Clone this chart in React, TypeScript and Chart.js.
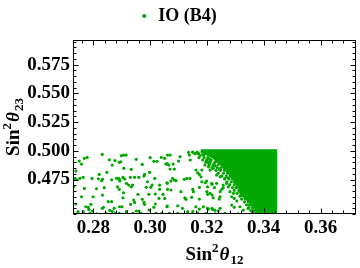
import React, { useEffect, useRef } from "react";
import { Chart, registerables } from "chart.js";

Chart.register(...registerables);

const SERIES_LABEL = "IO (B4)";
const GREEN = "rgb(0,168,0)";
const FONT_FAMILY = '"Liberation Serif", "Times New Roman", serif';

const X_MIN = 0.2728;
const X_MAX = 0.3725;
const Y_MIN = 0.445;
const Y_MAX = 0.5965;
const X_TICKS = [0.28, 0.3, 0.32, 0.34, 0.36];
const Y_TICKS = [0.475, 0.5, 0.525, 0.55, 0.575];
const X_MINOR_STEP = 0.004;
const Y_MINOR_STEP = 0.005;

// sparse scattered points [sin^2 theta12, sin^2 theta23]
const SPARSE_POINTS: [number, number][] = [
  [0.2831, 0.4969], [0.2768, 0.4935], [0.2778, 0.4943], [0.275, 0.4911], [0.2758, 0.4885],
  [0.2856, 0.4922], [0.2876, 0.4914], [0.2866, 0.4876], [0.2891, 0.49], [0.2738, 0.4824],
  [0.2847, 0.4813], [0.282, 0.4795], [0.2764, 0.4769], [0.2752, 0.476], [0.2741, 0.4748],
  [0.2735, 0.476], [0.2795, 0.476], [0.2817, 0.4757], [0.2832, 0.4752], [0.2829, 0.474],
  [0.2864, 0.4748], [0.2882, 0.476], [0.2891, 0.4752], [0.2731, 0.4687], [0.2768, 0.4673],
  [0.2811, 0.467], [0.2838, 0.4679], [0.2885, 0.4687], [0.2891, 0.4665], [0.2758, 0.46],
  [0.2799, 0.46], [0.2832, 0.4615], [0.2852, 0.4557], [0.2864, 0.4557], [0.2738, 0.4537],
  [0.2791, 0.4534], [0.2773, 0.4513], [0.2782, 0.4508], [0.2784, 0.449], [0.2835, 0.4508],
  [0.2831, 0.4499], [0.2873, 0.4499], [0.2746, 0.447], [0.2764, 0.447], [0.2796, 0.4476],
  [0.2858, 0.4482], [0.2866, 0.4473], [0.2729, 0.4452], [0.2743, 0.4452], [0.2788, 0.4456],
  [0.2811, 0.4452], [0.2843, 0.4456], [0.2876, 0.4456], [0.2891, 0.4456],
  [0.2898, 0.4957], [0.2906, 0.4963], [0.2915, 0.4963], [0.2896, 0.4905], [0.2951, 0.4926],
  [0.3, 0.494], [0.3013, 0.4909], [0.3024, 0.4909], [0.3039, 0.4943], [0.3051, 0.4935],
  [0.306, 0.4888], [0.2972, 0.4882], [0.2907, 0.4848], [0.2933, 0.4839], [0.2998, 0.4813],
  [0.298, 0.4795], [0.3016, 0.476], [0.2889, 0.476], [0.2904, 0.4769], [0.291, 0.4754],
  [0.293, 0.4769], [0.2945, 0.4769], [0.296, 0.4769], [0.2978, 0.478], [0.2893, 0.4737],
  [0.2916, 0.4717], [0.2924, 0.4702], [0.2933, 0.4687], [0.2938, 0.4702], [0.299, 0.4731],
  [0.3007, 0.4702], [0.3033, 0.4702], [0.306, 0.4717], [0.2986, 0.4682], [0.3002, 0.4682],
  [0.3033, 0.4665], [0.2906, 0.4635], [0.2957, 0.4621], [0.2995, 0.4621], [0.3018, 0.4624],
  [0.3045, 0.4621], [0.3051, 0.4586], [0.3031, 0.4586], [0.2904, 0.4591], [0.2942, 0.4571],
  [0.2945, 0.4551], [0.2972, 0.4578], [0.2978, 0.4551], [0.2931, 0.4534], [0.298, 0.4534],
  [0.3018, 0.4537], [0.3013, 0.4508], [0.306, 0.4519], [0.2892, 0.4513], [0.2901, 0.4513],
  [0.2951, 0.4476], [0.296, 0.4476], [0.2916, 0.447], [0.2996, 0.4484], [0.2939, 0.4456],
  [0.2968, 0.4456], [0.3021, 0.4456], [0.3041, 0.4456],
  [0.3061, 0.4963], [0.307, 0.4963], [0.3105, 0.4949], [0.3135, 0.4987], [0.3138, 0.4963],
  [0.3141, 0.492], [0.315, 0.4987], [0.31, 0.4911], [0.3055, 0.4885], [0.3065, 0.4876],
  [0.307, 0.4841], [0.3081, 0.4885], [0.3085, 0.4841], [0.3161, 0.4833], [0.3167, 0.4809],
  [0.3173, 0.4795], [0.3179, 0.4774], [0.3182, 0.4833], [0.3208, 0.4876], [0.322, 0.4848],
  [0.3229, 0.487], [0.3079, 0.476], [0.3085, 0.4746], [0.3091, 0.474], [0.3073, 0.4737],
  [0.312, 0.4752], [0.3129, 0.476], [0.314, 0.476], [0.3059, 0.4722], [0.3182, 0.4731],
  [0.3194, 0.4722], [0.3218, 0.4708], [0.3226, 0.4679], [0.3061, 0.4665], [0.3073, 0.4659],
  [0.3108, 0.4644], [0.315, 0.4665], [0.3152, 0.4644], [0.3173, 0.4682], [0.32, 0.4644],
  [0.3211, 0.463], [0.3122, 0.4591], [0.3126, 0.4578], [0.3146, 0.4595], [0.3173, 0.458],
  [0.3218, 0.4615], [0.3222, 0.4591], [0.3059, 0.4513], [0.3097, 0.4522], [0.3114, 0.4499],
  [0.3161, 0.4513], [0.3173, 0.4493], [0.3187, 0.4513], [0.3202, 0.4499], [0.322, 0.449],
  [0.3132, 0.447], [0.315, 0.447], [0.3167, 0.4461], [0.3067, 0.4456], [0.3097, 0.4456],
  [0.3196, 0.4456],
  [0.3199, 0.4737], [0.3202, 0.4687], [0.3217, 0.4717], [0.3234, 0.4717], [0.3246, 0.4644],
  [0.3252, 0.4665], [0.3257, 0.4679], [0.3257, 0.4702], [0.3269, 0.4717], [0.3275, 0.4687],
  [0.3202, 0.4621], [0.3246, 0.46], [0.3243, 0.458], [0.3287, 0.46], [0.3296, 0.4586],
  [0.3281, 0.4644], [0.3293, 0.463], [0.3305, 0.4563], [0.3316, 0.4513], [0.3205, 0.4493],
  [0.3217, 0.4499], [0.3228, 0.4482], [0.324, 0.4476], [0.3246, 0.4499], [0.3287, 0.4528],
  [0.3296, 0.4508], [0.3328, 0.4484], [0.3345, 0.4499], [0.3228, 0.4452], [0.3263, 0.4456],
  [0.331, 0.4452], [0.3381, 0.4456], [0.3398, 0.447], [0.3363, 0.4557], [0.3375, 0.4528],
  [0.3334, 0.4586], [0.3345, 0.4571], [0.3316, 0.4644], [0.3322, 0.4615], [0.3193, 0.4876],
  [0.3205, 0.4861], [0.3211, 0.4833], [0.3222, 0.4848], [0.3234, 0.4789], [0.3246, 0.4774],
  [0.3263, 0.476],
];

// points crowding along the fuzzy edge of the dense region
const FRINGE_POINTS: [number, number][] = [
  [0.315, 0.499], [0.3165, 0.499], [0.3158, 0.4975], [0.317, 0.4975], [0.3176, 0.496],
  [0.3188, 0.496], [0.3172, 0.494], [0.319, 0.494], [0.3203, 0.494], [0.3185, 0.492],
  [0.32, 0.492], [0.3215, 0.492], [0.3196, 0.49], [0.3212, 0.49], [0.3228, 0.49],
  [0.3208, 0.488], [0.3224, 0.488], [0.324, 0.488], [0.3218, 0.4855], [0.3236, 0.4855],
  [0.325, 0.4855], [0.3232, 0.483], [0.3248, 0.483], [0.3262, 0.483], [0.324, 0.4805],
  [0.3258, 0.4805], [0.3272, 0.4805], [0.3252, 0.478], [0.3268, 0.478], [0.3282, 0.478],
  [0.3262, 0.4755], [0.3278, 0.4755], [0.329, 0.4755], [0.327, 0.473], [0.3286, 0.473],
  [0.3298, 0.473], [0.328, 0.4705], [0.3296, 0.4705], [0.3308, 0.4705], [0.329, 0.468],
  [0.3305, 0.468], [0.3316, 0.468], [0.3296, 0.4655], [0.3312, 0.4655], [0.3324, 0.4655],
  [0.3306, 0.463], [0.332, 0.463], [0.3332, 0.463], [0.3316, 0.4605], [0.333, 0.4605],
  [0.3342, 0.4605], [0.3322, 0.458], [0.3338, 0.458], [0.335, 0.458], [0.3332, 0.4555],
  [0.3346, 0.4555], [0.3356, 0.4555], [0.334, 0.453], [0.3354, 0.453], [0.3364, 0.453],
  [0.3348, 0.4505], [0.336, 0.4505], [0.3372, 0.4505], [0.3354, 0.448], [0.3368, 0.448],
  [0.3378, 0.448], [0.336, 0.4458], [0.3372, 0.4458],
  [0.3168, 0.498], [0.3186, 0.4975], [0.3198, 0.4915], [0.3204, 0.49], [0.321, 0.4925],
  [0.3222, 0.4875], [0.323, 0.4905], [0.3244, 0.484], [0.3262, 0.484], [0.3274, 0.4765],
  [0.3302, 0.468], [0.3326, 0.461], [0.335, 0.453], [0.3362, 0.448],
];

// outline of the solid, densely filled region
const DENSE_REGION: [number, number][] = [
  [0.3178, 0.5], [0.3442, 0.5], [0.3442, 0.445], [0.3384, 0.445], [0.3368, 0.4513],
  [0.333, 0.4632], [0.3297, 0.4746], [0.326, 0.4862], [0.3222, 0.4945], [0.3178, 0.5],
];

type Part = { text: string; font: string; dy: number; gap?: number };

function titleParts(sub: string): Part[] {
  return [
    { text: "Sin", font: `bold 19px ${FONT_FAMILY}`, dy: 0 },
    { text: "2", font: `bold 13px ${FONT_FAMILY}`, dy: -8, gap: 1 },
    { text: "θ", font: `italic bold 19px ${FONT_FAMILY}`, dy: 0, gap: 1 },
    { text: sub, font: `bold 13px ${FONT_FAMILY}`, dy: 4 },
  ];
}

function drawRich(ctx: CanvasRenderingContext2D, parts: Part[], cx: number, baseline: number) {
  let total = 0;
  const widths = parts.map((p) => {
    ctx.font = p.font;
    const w = ctx.measureText(p.text).width + (p.gap || 0);
    total += w;
    return w;
  });
  let x = cx - total / 2;
  ctx.textAlign = "left";
  ctx.textBaseline = "alphabetic";
  parts.forEach((p, i) => {
    ctx.font = p.font;
    ctx.fillText(p.text, x, baseline + p.dy);
    x += widths[i];
  });
}

const framePlugin = {
  id: "mmaFrame",
  beforeLayout(chart: any) {
    const leg = chart.legend;
    if (leg && !leg.__patched) {
      const orig = leg.fit.bind(leg);
      leg.fit = () => {
        orig();
        leg.height += 5;
      };
      leg.__patched = true;
    }
  },
  afterDatasetsDraw(chart: any) {
    const { ctx, chartArea: a, scales } = chart;
    const xs = scales.x;
    const ys = scales.y;
    ctx.save();
    ctx.strokeStyle = "#000";
    ctx.lineWidth = 1;
    const L = a.left + 0.5;
    const R = a.right - 0.5;
    const T = a.top + 0.5;
    const B = a.bottom - 0.5;
    ctx.strokeRect(L, T, R - L, B - T);
    ctx.beginPath();
    const xStart = Math.ceil(X_MIN / X_MINOR_STEP);
    const xEnd = Math.floor(X_MAX / X_MINOR_STEP);
    for (let k = xStart; k <= xEnd; k++) {
      const v = k * X_MINOR_STEP;
      const major = X_TICKS.some((t) => Math.abs(t - v) < 1e-6);
      const len = major ? 5 : 3;
      const px = Math.round(xs.getPixelForValue(v)) + 0.5;
      ctx.moveTo(px, B);
      ctx.lineTo(px, B - len);
      ctx.moveTo(px, T);
      ctx.lineTo(px, T + len);
    }
    const yStart = Math.ceil(Y_MIN / Y_MINOR_STEP);
    const yEnd = Math.floor(Y_MAX / Y_MINOR_STEP);
    for (let k = yStart; k <= yEnd; k++) {
      const v = k * Y_MINOR_STEP;
      const major = Y_TICKS.some((t) => Math.abs(t - v) < 1e-6);
      const len = major ? 5 : 3;
      const py = Math.round(ys.getPixelForValue(v)) + 0.5;
      ctx.moveTo(L, py);
      ctx.lineTo(L + len, py);
      ctx.moveTo(R, py);
      ctx.lineTo(R - len, py);
    }
    ctx.stroke();

    ctx.fillStyle = "#000";
    const cx = (a.left + a.right) / 2;
    drawRich(ctx, titleParts("12"), cx, 260);
    ctx.translate(19, (a.top + a.bottom) / 2);
    ctx.rotate(-Math.PI / 2);
    drawRich(ctx, titleParts("23"), 0, 0);
    ctx.restore();
  },
};

export default function App() {
  const ref = useRef<HTMLCanvasElement | null>(null);

  useEffect(() => {
    if (!ref.current) return;
    const tickFont = { family: FONT_FAMILY, size: 19, weight: "bold" as const };
    const legendFont = { family: FONT_FAMILY, size: 18, weight: "bold" as const };
    const chart = new Chart(ref.current, {
      type: "scatter",
      data: {
        datasets: [
          {
            label: SERIES_LABEL,
            data: [...SPARSE_POINTS, ...FRINGE_POINTS].map(([x, y]) => ({ x, y })),
            backgroundColor: GREEN,
            borderColor: GREEN,
            borderWidth: 0,
            pointRadius: 1.6,
            pointHoverRadius: 1.6,
            pointStyle: "circle",
          },
          {
            label: "dense",
            data: DENSE_REGION.map(([x, y]) => ({ x, y })),
            showLine: true,
            fill: "shape",
            backgroundColor: GREEN,
            borderColor: GREEN,
            borderWidth: 3,
            tension: 0,
            pointRadius: 0,
            pointHoverRadius: 0,
          } as any,
        ],
      },
      options: {
        animation: false,
        responsive: false,
        maintainAspectRatio: false,
        layout: { padding: { left: 0, right: 4, top: 0, bottom: 0 } },
        plugins: {
          tooltip: { enabled: false },
          legend: {
            display: true,
            position: "top",
            labels: {
              usePointStyle: true,
              boxWidth: 10,
              boxHeight: 3,
              padding: 7,
              color: "#000",
              font: legendFont,
              filter: (item: any) => item.datasetIndex === 0,
            },
          },
        },
        scales: {
          x: {
            type: "linear",
            min: X_MIN,
            max: X_MAX,
            grid: { display: false, drawTicks: false, tickLength: 0 },
            border: { display: false },
            afterBuildTicks: (s: any) => {
              s.ticks = X_TICKS.map((v) => ({ value: v }));
            },
            afterFit: (s: any) => {
              s.height = 54;
            },
            ticks: {
              padding: 3,
              color: "#000",
              font: tickFont,
              maxRotation: 0,
              autoSkip: false,
              callback: (v: any) => Number(v).toFixed(2),
            },
          },
          y: {
            type: "linear",
            min: Y_MIN,
            max: Y_MAX,
            grid: { display: false, drawTicks: false, tickLength: 0 },
            border: { display: false },
            afterBuildTicks: (s: any) => {
              s.ticks = Y_TICKS.map((v) => ({ value: v }));
            },
            afterFit: (s: any) => {
              s.width = 73;
            },
            ticks: {
              padding: 3,
              color: "#000",
              font: tickFont,
              autoSkip: false,
              callback: (v: any) => Number(v).toFixed(3),
            },
          },
        },
      },
      plugins: [framePlugin],
    });
    return () => chart.destroy();
  }, []);

  return (
    <div style={{ position: "absolute", left: 0, top: 0, width: 360, height: 268 }}>
      <canvas ref={ref} width={360} height={268} style={{ display: "block" }} />
    </div>
  );
}
